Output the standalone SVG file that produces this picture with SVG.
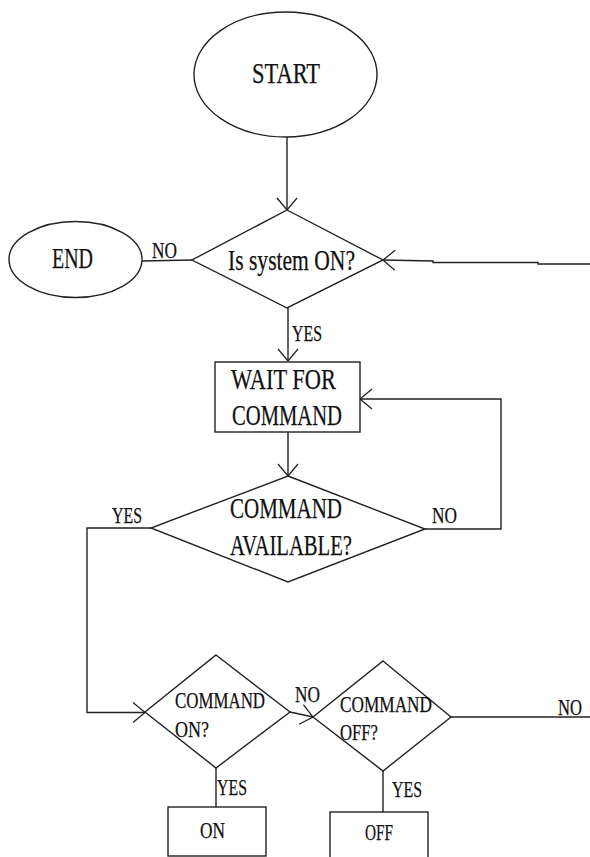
<svg xmlns="http://www.w3.org/2000/svg" width="590" height="857" viewBox="0 0 590 857">
<style>
  .shape { fill: #fff; stroke: #222; stroke-width: 1.4; }
  .conn { fill: none; stroke: #222; stroke-width: 1.4; }
  text { font-family: "Liberation Serif", "Times New Roman", serif; fill: #111; stroke: #111; stroke-width: 0.25; }
  .big { font-size: 30px; }
  .small { font-size: 23px; }
</style>
<defs>
  <marker id="arr" markerUnits="userSpaceOnUse" markerWidth="30" markerHeight="30" viewBox="-15 -15 30 30" refX="0" refY="0" orient="auto">
    <path d="M-12,-10 L0,0 L-12,10" fill="none" stroke="#222" stroke-width="1.3"/>
  </marker>
</defs>
<rect width="590" height="857" fill="#fff"/>

<g id="connectors">
  <line class="conn" x1="287" y1="137" x2="287" y2="210" marker-end="url(#arr)"/>
  <line class="conn" x1="192" y1="260" x2="142" y2="261"/>
  <polyline class="conn" points="590,264 538,264 538,262.5 433,262.5 433,261 383,260" marker-end="url(#arr)"/>
  <line class="conn" x1="288" y1="308" x2="288" y2="361" marker-end="url(#arr)"/>
  <line class="conn" x1="288" y1="432" x2="288" y2="476" marker-end="url(#arr)"/>
  <polyline class="conn" points="425,529 501,529 501,399 360,399" marker-end="url(#arr)"/>
  <polyline class="conn" points="151,528 87,528 87,712.5 145,712.5" marker-end="url(#arr)"/>
  <line class="conn" x1="290" y1="712" x2="313" y2="717" marker-end="url(#arr)"/>
  <line class="conn" x1="451" y1="717" x2="590" y2="717"/>
  <line class="conn" x1="216" y1="768" x2="216" y2="807"/>
  <line class="conn" x1="383" y1="771" x2="383" y2="812"/>
  <text class="small" x="152" y="258" textLength="25" lengthAdjust="spacingAndGlyphs">NO</text>
  <text class="small" x="292" y="341" textLength="30" lengthAdjust="spacingAndGlyphs">YES</text>
  <text class="small" x="112" y="523" textLength="30" lengthAdjust="spacingAndGlyphs">YES</text>
  <text class="small" x="432" y="523" textLength="25" lengthAdjust="spacingAndGlyphs">NO</text>
  <text class="small" x="295" y="702" textLength="25" lengthAdjust="spacingAndGlyphs">NO</text>
  <text class="small" x="558" y="715" textLength="24" lengthAdjust="spacingAndGlyphs">NO</text>
  <text class="small" x="217" y="795" textLength="30" lengthAdjust="spacingAndGlyphs">YES</text>
  <text class="small" x="392" y="797" textLength="30" lengthAdjust="spacingAndGlyphs">YES</text>
</g>

<g id="start">
  <ellipse class="shape" cx="285.5" cy="74.5" rx="91.5" ry="62.5"/>
  <text x="252" y="83" font-size="30" textLength="68" lengthAdjust="spacingAndGlyphs">START</text>
</g>

<g id="end">
  <ellipse class="shape" cx="75.5" cy="259.5" rx="66.5" ry="38"/>
  <text class="big" x="52" y="268" textLength="41" lengthAdjust="spacingAndGlyphs">END</text>
</g>

<g id="is-system-on">
  <polygon class="shape" points="287,210 383,260 287,308 192,260"/>
  <text class="big" x="228" y="270" textLength="127" lengthAdjust="spacingAndGlyphs">Is system ON?</text>
</g>

<g id="wait-for-command">
  <rect class="shape" x="215" y="362" width="145" height="70"/>
  <text class="big" x="231" y="389" textLength="105" lengthAdjust="spacingAndGlyphs">WAIT FOR</text>
  <text class="big" x="232" y="425" textLength="110" lengthAdjust="spacingAndGlyphs">COMMAND</text>
</g>

<g id="command-available">
  <polygon class="shape" points="288,476 425,529 288,582 151,528"/>
  <text class="big" x="230" y="518" textLength="112" lengthAdjust="spacingAndGlyphs">COMMAND</text>
  <text class="big" x="230" y="555" textLength="122" lengthAdjust="spacingAndGlyphs">AVAILABLE?</text>
</g>

<g id="command-on">
  <polygon class="shape" points="216,655 290,712 216,768 145,712"/>
  <text class="small" x="175" y="708" textLength="90" lengthAdjust="spacingAndGlyphs">COMMAND</text>
  <text class="small" x="175" y="737" textLength="34" lengthAdjust="spacingAndGlyphs">ON?</text>
</g>

<g id="command-off">
  <polygon class="shape" points="383,661 451,717 383,771 313,717"/>
  <text class="small" x="340" y="712" textLength="92" lengthAdjust="spacingAndGlyphs">COMMAND</text>
  <text class="small" x="340" y="740" textLength="38" lengthAdjust="spacingAndGlyphs">OFF?</text>
</g>

<g id="on">
  <rect class="shape" x="168" y="807" width="98" height="49"/>
  <text class="small" x="200" y="838" textLength="25" lengthAdjust="spacingAndGlyphs">ON</text>
</g>

<g id="off">
  <rect class="shape" x="330" y="812" width="98" height="47"/>
  <text class="small" x="365" y="840" textLength="28" lengthAdjust="spacingAndGlyphs">OFF</text>
</g>
</svg>
